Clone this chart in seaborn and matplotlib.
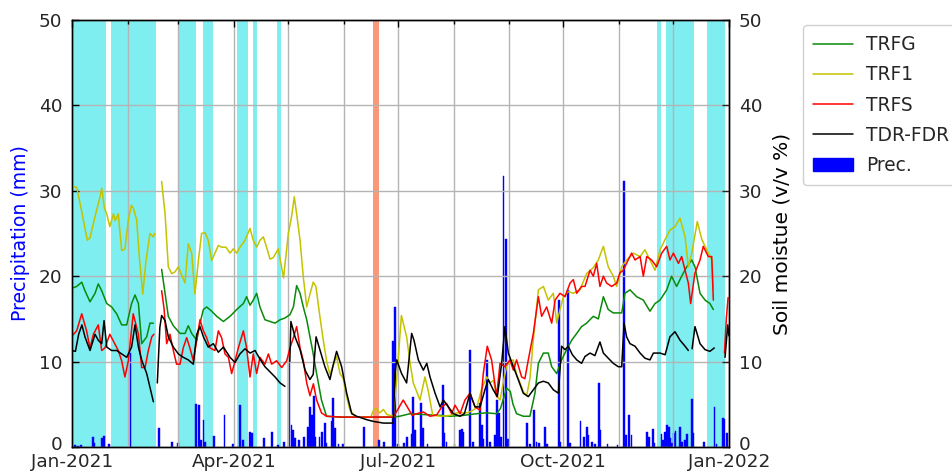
import numpy as np
import pandas as pd
import matplotlib
matplotlib.use("Agg")
import matplotlib.pyplot as plt
import matplotlib.dates as mdates
from matplotlib.patches import Patch
from matplotlib.lines import Line2D
from matplotlib.transforms import ScaledTranslation
import seaborn as sns

start = pd.Timestamp("2021-01-01")
nan = np.nan

# ---------------- data (day offset from 2021-01-01, value) ----------------
trf1_days = [0, 2.6, 5, 8.5, 10, 12.8, 15.6, 16.5, 18, 19.3, 21, 23, 24, 25.7, 27.6, 29.4, 31.3, 33, 34,
             35.9, 37.5, 39.3, 41.1, 43.3, 45.2, 46, 47.5,
             49.8, 51.7, 53.5, 55.4, 57.2, 59.1, 61, 62.8, 64.6, 66.5, 68.3, 70.2, 72, 73.9, 75.7, 77.6,
             79.4, 81.3, 83.1, 85.5, 87.8, 89.6, 91.5, 93.3, 96.1, 98.9, 100.7, 102.6, 104.4, 106.3,
             108.1, 110, 111.9, 114.6, 117.5, 120.2, 122, 123.5, 124.8, 126.7, 128.5, 130.4, 132.2, 134,
             135.5, 137.7, 139.6, 141.5, 143.3, 145, 147, 148.9, 150.7, 152.5, 154.4, 156.5, 158.1, 162,
             166, 167.5, 169, 171, 173, 175, 178.5, 180.4, 183, 185.9, 187.7, 189.6, 191.5, 193.3, 196.1,
             198, 200.4, 205, 210, 213.7, 219.3, 222, 224.8, 227.6, 230.4, 232.2, 234.1, 236, 237.8, 240,
             241.5, 243.3, 245.2, 247, 248.9, 250.7, 252.6, 254.4, 256.3, 259.1, 261.9, 264.6, 267.4,
             269.3, 271, 273, 275.7, 278.5, 282.2, 285.9, 289.6, 292.4, 295.2, 297.9, 300.7, 302.6, 305.4,
             308.1, 311.9, 315.6, 318.3, 321.1, 323.9, 326.7, 329.5, 332.2, 335, 337.8, 340.6, 342.4,
             344.3, 347.4, 349.9, 352.6, 355.4, 356.3]
trf1_vals = [30.5, 30.4, 28, 24.2, 24.5, 27, 29.3, 30.3, 28, 27.3, 25.8, 27.3, 26.5, 27.3, 23, 23.2, 26.6, 28.3, 28,
             26.6, 22, 17.9, 21.8, 25, 24.6, 25, nan,
             31.1, 27.3, 21.1, 20.3, 20.5, 21.1, 20.1, 19.2, 23.8, 22.7, 17.9, 21.8, 25, 25.1, 24.2, 21.8,
             22.7, 23.6, 23.4, 23.4, 22.7, 23.2, 22.7, 23.4, 24.2, 25.6, 24.2, 23.4, 24.2, 24.6,
             23.4, 22, 22.2, 23.2, 19.8, 25, 27, 29.3, 27.3, 24.2, 19.9, 16.4, 17.9, 19.3,
             18.8, 15.3, 12.5, 10, 8.5, 9.5, 10.6, 8.6, 8.0, 6, 4.3, 3.8, 3.5, 3.5,
             3.5, 4.3, 4.5, 4.0, 4.4, 3.8, 3.6, 8, 15.4, 12.9, 10, 7.5, 6.5, 5.5, 8.2,
             6.5, 3.7, 3.6, 3.7, 4, 4, 4.2, 4.6, 6.8, 8.2, 7.5, 7.8, 6, 5.5, 8,
             9.5, 10, 10.2, 8.5, 7.5, 6.5, 6, 8, 12.6, 18.4, 18.8, 17.2, 18,
             14.5, 16, 17.6, 18.2, 18, 18.4, 20.3, 21, 21.9, 23.5, 21.1, 20, 18.8, 21.1,
             21.9, 22.7, 22.3, 23.1, 21.9, 20.7, 23.1, 24.3, 25.4, 25.8, 26.8, 24.6, 21.1,
             22.7, 26.4, 24.3, 23.1, 21.9, 18.5]

trfg_days = [0, 2.6, 5.4, 7.2, 10, 12.8, 14.6, 16.5, 19.3, 22, 24.8, 27.6, 30.4, 33.1, 35, 36.9, 38.7, 41.5,
             43.3, 45.2, 47.5,
             49.8, 51.7, 53.5, 56.3, 60, 62.8, 64.6, 66.5, 69.3, 71.1, 73, 74.8, 77.6, 80.4, 84.1, 87.8,
             91.5, 95.2, 97, 98.9, 100.7, 102.6, 104.4, 107.2, 110, 112.8, 115.6, 118.3, 121.1, 123,
             124.8, 126.7, 128.5, 130.4, 132.2, 133.5, 135.9, 138.6, 141.4, 150, 160, 170, 178.5, 182,
             187.8, 195, 205, 210, 217.4, 224.8, 230, 235.9, 238, 241.5, 243.5, 245, 247, 250.7, 254.4,
             257.2, 259.1, 261.9, 264.6, 266.5, 269.3, 272, 274.8, 277.6, 280.4, 283.1, 285.9, 289.6,
             292.4, 295.2, 297.9, 300.7, 305.4, 307.2, 310, 313.7, 317.4, 321.1, 323.9, 326.7, 330.4,
             333.1, 335.9, 338.7, 341.5, 344.3, 346.1, 348.9, 351.7, 354.4, 356.3]
trfg_vals = [18.6, 18.8, 19.3, 18.3, 17, 18, 19.1, 18.3, 16.8, 16.4, 15.6, 14.3, 14.3, 16.8, 17.8, 16.8, 12.1, 12.9,
             14.5, 14.5, nan,
             20.8, 18, 15.3, 14.2, 13.3, 13.3, 14.2, 13.3, 12.5, 14.5, 16.1, 16.4, 15.9, 15.3, 14.7, 15.3,
             16.1, 16.8, 17.6, 16.6, 17.2, 18, 16.4, 14.9, 14.7, 14.5, 14.9, 15.1, 15.5, 16.4,
             18.9, 18, 16.4, 14.9, 12.9, 11.5, 8.6, 5.5, 3.6, 3.5, 3.5, 3.5, 3.5, 3.6,
             3.9, 3.8, 3.7, 3.6, 3.7, 3.9, 4.0, 3.9, 4.5, 6.9, 6.5, 5, 3.9, 3.6, 3.6,
             6.3, 9.8, 11, 11, 9.4, 8.6, 10.2, 11.4, 12.5, 13.3, 14.1, 14.5, 15.3,
             15, 17.6, 16.1, 15.7, 15.7, 18, 18.4, 17.6, 17.2, 15.9, 16.8, 17.2, 18.4,
             20, 18.8, 20, 21.1, 21.9, 21.1, 18, 17.2, 16.8, 16.1]

trfs_days = [0, 2.6, 5.4, 8.1, 10, 11.9, 14.6, 16.5, 18.3, 21, 23, 25.7, 27.6, 29.4, 31.3, 34, 36.9, 38.7, 40.6,
             42.4, 44.3, 45.5, 47.5,
             49.8, 51.1, 52.6, 54.4, 56.3, 58.1, 60, 61.8, 63.7, 65.5, 67.4, 69.3, 71.1, 73, 74.8, 76.7,
             79.4, 81.3, 83.1, 85, 86.9, 88.7, 90.6, 92.4, 95.2, 97, 98.9, 100.7, 102.6, 104.4, 107.2,
             109.1, 110.9, 113.7, 116.5, 119.3, 121.1, 123, 124.8, 126.7, 128.5, 130.4, 132.2, 134.1,
             135.9, 138.6, 141.4, 150, 160, 170, 178.5, 181.3, 184, 186.8, 189, 191.5, 195.2, 198.9,
             202.6, 205.4, 208.1, 210.9, 212.8, 215.6, 218.3, 221.1, 223.9, 226.7, 228.5, 230.7, 233.1,
             235.9, 237.8, 240.5, 243.3, 245.2, 247, 249.8, 251.6, 253.5, 256.3, 259.1, 260.9, 263.7,
             266.5, 268.4, 271.1, 273.9, 276.7, 278.5, 280.4, 283.1, 285, 287.8, 289.6, 291.5, 293.3,
             295.2, 297, 299.8, 302.6, 304.4, 306.3, 309, 310.9, 312.8, 315.6, 317.4, 319.3, 322,
             324.8, 327.6, 330.4, 332.2, 334.1, 336.9, 338.7, 340.6, 342.4, 343.7, 346.1, 348.9, 350.7,
             353.5, 355.4, 356.3, 359,
             362.5, 363.5, 364.5]
trfs_vals = [13, 13.6, 15.6, 13.6, 11.6, 13.2, 14.3, 11.3, 11.6, 13.2, 12.4, 11.3, 10.1, 8.2, 10.1, 15.6, 13.2, 9.3, 9.3,
             11.3, 12.9, 13.2, nan,
             18.3, 16.3, 12.1, 13.2, 11.3, 9.7, 9.7, 11.6, 12.8, 11.6, 10.1, 12.5, 14.9, 13.6, 12.8, 11.6,
             11.3, 13.6, 12.8, 10.9, 10.5, 8.6, 10.1, 11.6, 13.6, 11.6, 8.2, 10.9, 8.6, 10.5, 9.7,
             10.9, 9.7, 10.1, 9.3, 10.1, 11.6, 12.8, 14.1, 11.6, 10.1, 7.5, 6.0, 7.4,
             5.5, 4.0, 3.6, 3.5, 3.5, 3.5, 3.5, 4.5, 5.5, 4.5, 3.7, 3.9, 4.1, 3.6,
             3.75, 4.7, 5.1, 3.9, 4.9, 3.9, 5.5, 6.3, 4.7, 4.3, 8.6, 11.8, 10.2,
             5.9, 9.8, 9.4, 10.2, 9, 10.2, 8.2, 8, 10.2, 13.3, 17.6, 15.3, 16.4,
             14.5, 17.2, 18, 17.6, 19.2, 19.6, 18, 18.8, 18.8, 20.7, 20, 21.5, 18.8,
             20, 19.2, 18.8, 19.2, 20.4, 20.7, 21.9, 22.7, 21.9, 22.3, 20, 22.3, 21.9,
             21.1, 22.7, 23.5, 21.9, 22.7, 21.5, 22.3, 20.7, 19.2, 16.8, 20.4, 21.9, 23.5,
             22.3, 22.3, 17.2, nan,
             11, 15, 17.5]

tdr_days = [0, 1.9, 3.7, 5.5, 7.2, 10, 12.8, 14.6, 16.5, 17.8, 19.3, 22, 24.8, 27.6, 30.4, 33.1, 35, 36.9, 38.7,
            41.5, 43.3, 45.2, 46.3,
            47.4, 48.8, 49.8, 51.7, 53.5, 56.3, 59.1, 61.8, 64.6, 67.4, 69.3, 71.1, 73, 75.7, 78.5, 81.3,
            84.1, 87.8, 90.6, 93.3, 96.1, 98.9, 101.7, 104.4, 107.2, 110, 112.8, 115.6, 118.3, 119.5,
            121, 121.6, 123.9, 126.7, 129.5, 132.2, 134, 135.6, 137.7, 140.5, 143.3, 145, 147, 149.8,
            152.6, 155.4, 158.1, 163.7, 167.4, 173, 178.5, 179.4, 180.4, 183.1, 185.9, 188.7, 190,
            192.4, 195.2, 197.1, 198.9, 201.7, 204.5, 206.3, 209.1, 211.9, 215.6, 218, 221.1, 223.9,
            226.7, 229.4, 231.3, 234, 236.3, 238.7, 240.5, 242.4, 245.2, 247.9, 250.7, 253.5, 256.3,
            259.1, 261.9, 264.6, 267.4, 270.2, 272, 273.9, 275.7, 278, 280.4, 283.1, 285, 287.8, 290.5,
            293.3, 295.2, 297.9, 300.7, 303.5, 305.4, 306.7, 308.1, 310, 312.8, 315.6, 318.3, 321.1,
            323, 326.7, 329.5, 332.2, 335, 337.8, 340.6, 342.4, 343.5,
            344.5, 346.1, 348.9, 351.7, 354.4, 356.8, 359,
            362.8, 364.3, 365]
tdr_vals = [11.3, 11.2, 13.2, 14.3, 12.9, 11.3, 13.2, 12.5, 12.1, 14.8, 11.7, 11.3, 11.3, 10.9, 10.5, 11.7, 14.3, 11.7, 10.2,
            8.6, 7, 5.3, nan,
            7.5, 14, 15.4, 14.8, 12.9, 11.7, 10.9, 10.5, 10.2, 9.7, 13.2, 14.1, 12.9, 11.7, 12.1, 11.1,
            11.7, 10.5, 9.9, 10.9, 11.5, 11, 11.3, 10.3, 9.4, 8.8, 8.2, 7.5, 7.1, nan,
            10, 14.7, 12.9, 11.4, 9, 7.9, 8.5, 12.9, 11.4, 9.4, 7.9, 9.5, 11.2, 9.4,
            6.3, 3.9, 3.6, 3.2, 3, 2.8, 2.8, 8.6, 10.2, 8.6, 7.5, 13.3, 12.5,
            10.2, 9, 9.8, 8.2, 6.3, 4.7, 5.5, 4.7, 3.9, 3.6, 3.9, 6.3, 4.7,
            4.7, 6.7, 7.9, 6.7, 5.9, 9.8, 14.1, 11, 9.4, 7.9, 6.3, 5.9, 6.7,
            7.5, 7.7, 7.5, 6.7, 6.3, 11.8, 11.4, 11.8, 10.8, 10.2, 9.8, 10.6, 11, 10.7,
            12.3, 11, 10.4, 9.8, 9.4, 9.4, 14.5, 12.9, 12.1, 11.8, 11, 10.4, 10.2,
            11, 11, 10.8, 12.9, 13.5, 12.5, 11.8, 11.3, nan,
            11.5, 14.1, 12.1, 11.4, 11.2, 11.6, nan,
            10.5, 14.3, 13]

prec_days = [1.5, 3.5, 5, 11.5, 12.3, 16.5, 17.8, 20.5, 32.5, 48.5, 55.7, 58.8, 68.9, 70.7, 71.8, 73, 74,
             78.7, 84.7, 89.6, 93.5, 95.2, 98.7, 99.8, 106.7, 110.9, 114.5, 117.6, 120.6, 121.9, 122.8,
             123.8, 126, 128.8, 131.3, 132.2, 133.3, 134.4, 135.3, 137.5, 138.8, 140.6, 141.2, 144.2,
             145.2, 146.1, 148, 150.4, 162.2, 170.5, 173.5, 178.5, 179.6, 181, 184.3, 185.9, 188.7,
             189.6, 190.6, 193.7, 194.8, 197.5, 205.9, 207, 208, 212.5, 215.5, 216.5, 217.4, 220.9,
             222.7, 226.7, 227.6, 228.5, 230.4, 232.4, 235, 236.2, 237.4, 238.4, 239.7, 240.9, 242.2,
             252.6, 254.5, 256.6, 258, 259.5, 262.8, 264, 270.5, 271.4, 275.7, 276.6, 282.5, 284.5,
             285.9, 287, 288.7, 290.5, 292.7, 293.6, 297.5, 303, 306.7, 307.6, 309.6, 310.8, 319.4,
             320.6, 322.6, 323.6, 327.5, 328.4, 329.5, 330.7, 331.6, 332.5, 333.4, 334.3, 335.3, 337.8,
             338.7, 340.4, 341.5, 344.4, 345.3, 351.3, 356.9, 358, 361.5, 362.5, 364]
prec_vals = [0.2, 0.15, 0.2, 1.2, 0.5, 1.0, 1.3, 0.4, 11, 2.2, 0.6, 0.5, 5, 4.9, 0.8, 3.2, 0.6,
             1.3, 3.75, 0.3, 4.9, 0.8, 1.8, 1.6, 1.0, 1.8, 0.2, 0.6, 10, 2.6, 2,
             1, 0.8, 1.2, 2.4, 4.7, 3.7, 6.0, 1.2, 1.2, 1.8, 2.8, 0.5, 3.0,
             5.7, 2.2, 0.4, 0.3, 2.4, 0.8, 0.6, 12.4, 16.4, 0.4, 0.5, 1.2, 1.5,
             5.9, 2.0, 5.1, 2.2, 0.4, 7.3, 1.6, 0.6, 0.3, 2.0, 2.1, 1.8, 11.4,
             0.6, 5.1, 2.6, 0.9, 10.2, 0.6, 1.4, 5.5, 4, 1.2, 31.7, 24.3, 0.9,
             2.8, 0.3, 4.3, 0.6, 0.5, 2.4, 0.4, 17.2, 0.6, 18.4, 0.5, 3.0, 1.2,
             2.4, 1.4, 0.6, 0.4, 7.5, 2, 0.3, 0.2, 31.1, 1.4, 3.75, 1.4, 1.7,
             1.2, 2.1, 0.5, 1.5, 0.8, 1.7, 2.6, 2.4, 1.0, 0.5, 1.6, 1.9, 2.4,
             0.6, 0.8, 1.5, 5.6, 1.6, 0.6, 4.7, 0.3, 3.4, 3.3, 1.6]

cyan_starts = [0, 21.5, 59.4, 72.8, 91.7, 100.6, 113.9, 325, 330, 353]
cyan_ends = [18.7, 46.7, 69, 78.3, 97.8, 102.8, 116.1, 327, 345.5, 363]
orange_start, orange_end = 167, 170.5

series_names = ["TRFG", "TRF1", "TRFS", "TDR-FDR"]
series_colors = ["#0a8a0a", "#c3c300", "#ff0000", "#000000"]

# ---------------- figure ----------------
sns.set_theme(style="white")
plt.rcParams["font.family"] = ["DejaVu Sans"]

fig = plt.figure(figsize=(9.53, 4.75), dpi=100)
ax = fig.add_axes([72 / 953, 1 - 447 / 475, (729 - 72) / 953, (447 - 20) / 475])
ax2 = ax.twinx()

def to_dates(days):
    return start + pd.to_timedelta(np.asarray(days, float), unit="D")

for s, e in zip(cyan_starts, cyan_ends):
    ax.axvspan(start + pd.Timedelta(days=s), start + pd.Timedelta(days=e),
               color="#7eeef0", lw=0, zorder=0)
ax.axvspan(start + pd.Timedelta(days=orange_start), start + pd.Timedelta(days=orange_end),
           color="#f9997a", lw=0, zorder=0)

ax.bar(to_dates(prec_days), prec_vals, width=1.0, color="#0000ff",
       edgecolor="#0000ff", lw=0.3, zorder=2)

def segments(days, vals):
    d = np.asarray(days, float)
    v = np.asarray(vals, float)
    breaks = np.where(np.isnan(v))[0]
    for seg in np.split(np.arange(len(v)), breaks):
        seg = seg[~np.isnan(v[seg])]
        if len(seg) > 1:
            yield pd.DataFrame({"date": to_dates(d[seg]), "value": v[seg]})

all_series = [(trfg_days, trfg_vals), (trf1_days, trf1_vals),
              (trfs_days, trfs_vals), (tdr_days, tdr_vals)]
for (dd, vv), col in zip(all_series, series_colors):
    for df in segments(dd, vv):
        sns.lineplot(data=df, x="date", y="value", ax=ax2, color=col, lw=1.1,
                     estimator=None, sort=False, legend=False)

x0, x1 = start, pd.Timestamp("2022-01-01")
for a in (ax, ax2):
    a.set_xlim(x0, x1)
    a.set_ylim(0, 50)
    a.set_yticks([0, 10, 20, 30, 40, 50])

ax.xaxis.set_major_locator(mdates.MonthLocator(bymonth=[1, 4, 7, 10]))
ax.xaxis.set_major_formatter(mdates.DateFormatter("%b-%Y"))
ax.xaxis.set_minor_locator(mdates.MonthLocator())

ax.grid(True, which="both", axis="x", color="#b4b4b4", lw=1.0, zorder=1)
ax.grid(True, which="major", axis="y", color="#b4b4b4", lw=1.0, zorder=1)
ax.set_axisbelow(False)
ax2.grid(False)

ax.tick_params(axis="both", which="both", direction="in", top=True, labelsize=13.3,
               length=5, width=1, color="black")
ax.tick_params(axis="x", which="minor", length=3)
ax.tick_params(axis="x", which="major", pad=4)
ax.tick_params(axis="y", pad=7)
ax2.tick_params(axis="y", direction="in", labelsize=13.3, length=5, width=1, pad=7)

for a in (ax, ax2):
    for sp in a.spines.values():
        sp.set_color("black")
        sp.set_linewidth(1.0)

ax.set_xlabel("")
ax2.set_xlabel("")
ax.set_ylabel("Precipitation (mm)", color="#0000ff", fontsize=13.6, labelpad=6)
ax2.set_ylabel("Soil moistue (v/v %)", color="black", fontsize=14.5, labelpad=7)

# raise the two "0" tick labels slightly, as in the reference
for a in (ax, ax2):
    t0 = a.yaxis.get_major_ticks()[0]
    for lab in (t0.label1, t0.label2):
        lab.set_transform(lab.get_transform() + ScaledTranslation(0, 0.045, fig.dpi_scale_trans))

handles = [Line2D([], [], color=c, lw=1.1) for c in series_colors]
handles.append(Patch(facecolor="#0000ff", edgecolor="#0000ff"))
fig.legend(handles, series_names + ["Prec."], loc="upper left",
           bbox_to_anchor=(803 / 953, 1 - 25 / 475), fontsize=13.4, frameon=True,
           handlelength=2.15, labelspacing=0.6, borderpad=0.55, handletextpad=0.7,
           borderaxespad=0, fancybox=True, edgecolor="#d0d0d0", framealpha=1.0)

fig.savefig("out.png", dpi=100)
